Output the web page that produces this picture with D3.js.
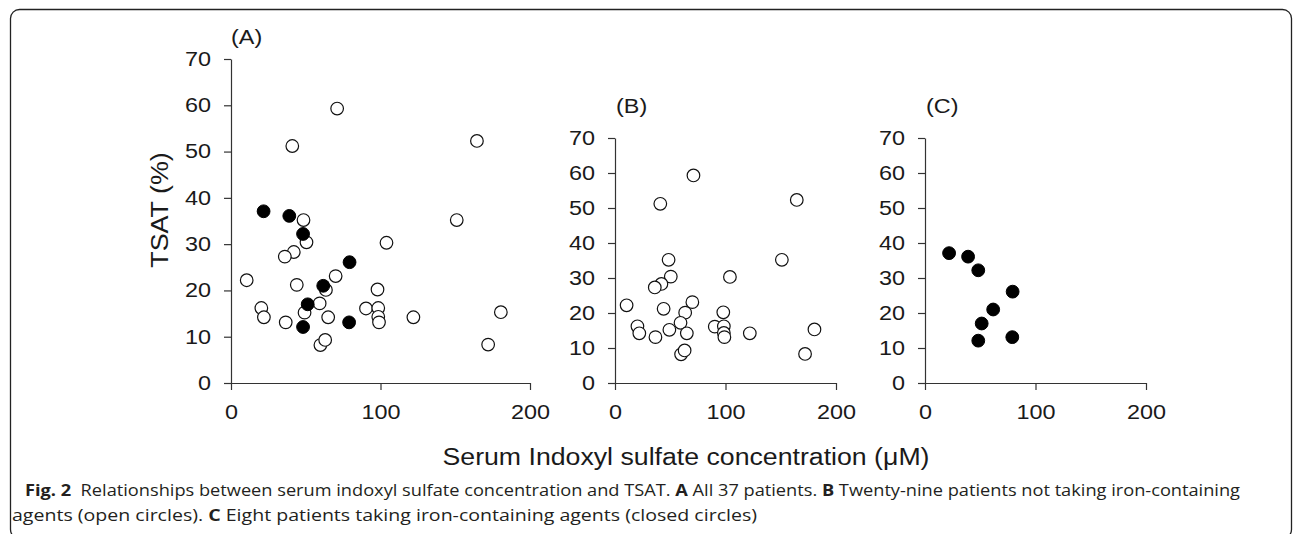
<!DOCTYPE html>
<html>
<head>
<meta charset="utf-8">
<script src="https://cdn.jsdelivr.net/npm/d3@7/dist/d3.min.js"></script>
<style>
    html, body { margin: 0; padding: 0; background: #fff; }
    svg { display: block; }
</style>
</head>
<body>
<div id="chart"></div>
<script>
// 不服用含铁药物的患者 (空心圆)
var openIS = [71, 41, 164.5, 48.5, 151, 50.5, 104, 42, 36, 70, 10.5, 44, 63.5, 98, 20.3, 22, 59.3, 49.2, 65, 90.3, 98.5, 98.5, 99, 36.6, 122, 59.8, 63, 172, 180.5];
var openTSAT = [59.3, 51.2, 52.3, 35.2, 35.2, 30.4, 30.3, 28.3, 27.3, 23.1, 22.2, 21.2, 20.1, 20.2, 16.2, 14.2, 17.2, 15.2, 14.2, 16.1, 16.2, 14.3, 13.1, 13.1, 14.2, 8.2, 9.3, 8.3, 15.3];

// 服用含铁药物的患者 (实心圆)
var closedIS = [21.8, 39, 48.2, 79.3, 61.7, 51.3, 48.2, 79];
var closedTSAT = [37.1, 36.1, 32.2, 26.1, 21, 17, 12.1, 13.1];

var xTicks = [0, 100, 200];
var yTicks = [0, 10, 20, 30, 40, 50, 60, 70];

var captionLine1 = [
    {t: 'Fig. 2', b: true},
    {t: '\u00a0 Relationships between serum indoxyl sulfate concentration and TSAT. ', b: false},
    {t: 'A', b: true},
    {t: ' All 37 patients. ', b: false},
    {t: 'B', b: true},
    {t: ' Twenty-nine patients not taking iron-containing', b: false}
];
var captionLine2 = [
    {t: 'agents (open circles). ', b: false},
    {t: 'C', b: true},
    {t: ' Eight patients taking iron-containing agents (closed circles)', b: false}
];

var W = 1295, H = 534;
var FONT = '"Liberation Sans", Arial, sans-serif';
var STRETCH = 1.17; // 原图文字横向略宽

var svg = d3.select('#chart').append('svg')
    .attr('width', W).attr('height', H);

// 横向拉宽文字
function widen(sel, k) {
    sel.each(function() {
        var len = this.getComputedTextLength();
        d3.select(this).attr('textLength', len * (k || STRETCH)).attr('lengthAdjust', 'spacingAndGlyphs');
    });
}

// 外框
svg.append('rect')
    .attr('x', 10.5).attr('y', 9.5)
    .attr('width', 1281).attr('height', 529)
    .attr('rx', 9).attr('ry', 9)
    .attr('fill', 'none').attr('stroke', '#222').attr('stroke-width', 1.3);

var panels = [
    {label: '(A)', x0: 231, x1: 530, yTop: 59, labelX: 231, labelY: 44, open: true, closed: true},
    {label: '(B)', x0: 615, x1: 836, yTop: 138, labelX: 616, labelY: 113, open: true, closed: false},
    {label: '(C)', x0: 925, x1: 1146, yTop: 138, labelX: 926, labelY: 113, open: false, closed: true}
];
var yBottom = 383;

var openPts = openIS.map(function(v, i) { return {x: v, y: openTSAT[i]}; });
var closedPts = closedIS.map(function(v, i) { return {x: v, y: closedTSAT[i]}; });

panels.forEach(function(p) {
    var x = d3.scaleLinear().domain([0, 200]).range([p.x0, p.x1]);
    var y = d3.scaleLinear().domain([0, 70]).range([yBottom, p.yTop]);
    var g = svg.append('g');

    var xa = g.append('g')
        .attr('transform', 'translate(0,' + yBottom + ')')
        .call(d3.axisBottom(x).tickValues(xTicks).tickSize(7).tickSizeOuter(0).tickPadding(15));
    var ya = g.append('g')
        .attr('transform', 'translate(' + p.x0 + ',0)')
        .call(d3.axisLeft(y).tickValues(yTicks).tickSize(7).tickSizeOuter(0).tickPadding(13));

    [xa, ya].forEach(function(a) {
        a.select('.domain').attr('stroke', '#333').attr('stroke-width', 1.2);
        a.selectAll('.tick line').attr('stroke', '#333').attr('stroke-width', 1.2);
        a.selectAll('.tick text')
            .attr('font-family', FONT).attr('font-size', 20).attr('fill', '#1a1a1a')
            .call(widen);
    });

    g.append('text')
        .attr('x', p.labelX).attr('y', p.labelY)
        .attr('font-family', FONT).attr('font-size', 20).attr('fill', '#1a1a1a')
        .text(p.label)
        .call(widen);

    if (p.open) {
        g.append('g').selectAll('circle')
            .data(openPts).enter().append('circle')
            .attr('cx', function(d) { return x(d.x); })
            .attr('cy', function(d) { return y(d.y); })
            .attr('r', 6.3)
            .attr('fill', '#fff').attr('stroke', '#111').attr('stroke-width', 1.2);
    }
    if (p.closed) {
        g.append('g').selectAll('circle')
            .data(closedPts).enter().append('circle')
            .attr('cx', function(d) { return x(d.x); })
            .attr('cy', function(d) { return y(d.y); })
            .attr('r', 6.4)
            .attr('fill', '#000').attr('stroke', '#000').attr('stroke-width', 1);
    }
});

// 坐标轴标题
svg.append('text')
    .attr('transform', 'translate(168,210) rotate(-90)')
    .attr('text-anchor', 'middle')
    .attr('font-family', FONT).attr('font-size', 23).attr('fill', '#1a1a1a')
    .text('TSAT (%)')
    .call(widen);

svg.append('text')
    .attr('x', 686).attr('y', 465)
    .attr('text-anchor', 'middle')
    .attr('font-family', FONT).attr('font-size', 23).attr('fill', '#1a1a1a')
    .attr('textLength', 487).attr('lengthAdjust', 'spacingAndGlyphs')
    .text('Serum Indoxyl sulfate concentration (\u03bcM)');

// 图注
function caption(parts, x, y, len) {
    var t = svg.append('text')
        .attr('x', x).attr('y', y)
        .attr('font-family', '"Open Sans", "Noto Sans", sans-serif')
        .attr('font-size', 16).attr('fill', '#231f20')
        .attr('textLength', len).attr('lengthAdjust', 'spacingAndGlyphs')
        .style('white-space', 'pre');
    parts.forEach(function(p) {
        t.append('tspan').attr('font-weight', p.b ? 700 : 400).text(p.t);
    });
}
caption(captionLine1, 25, 496, 1215);
caption(captionLine2, 12, 521, 745);
</script>
</body>
</html>
